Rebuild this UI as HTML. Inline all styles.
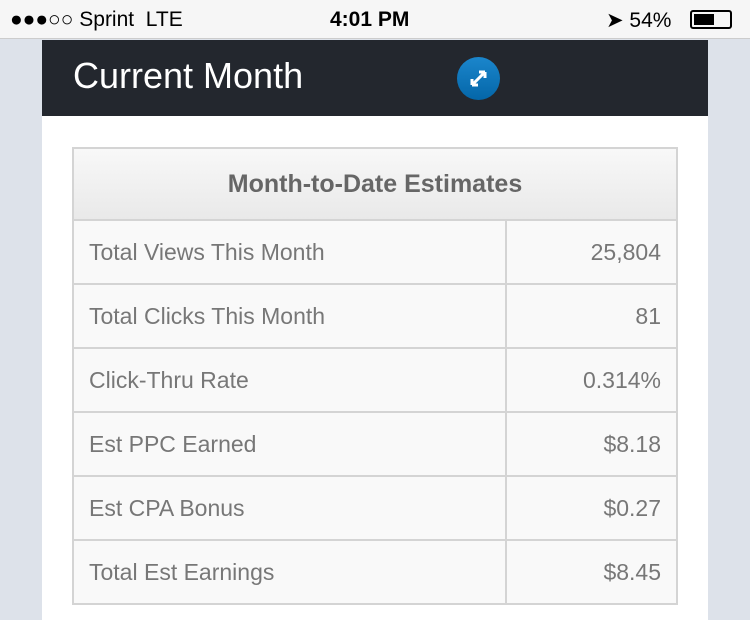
<!DOCTYPE html>
<html><head><meta charset="utf-8"><style>
*{margin:0;padding:0;box-sizing:border-box}
body{width:750px;height:613px;overflow:hidden;background:#dde2ea;font-family:"Liberation Sans",sans-serif;position:relative}
.sb{position:absolute;left:0;top:0;width:750px;height:39px;background:#f6f6f6;border-bottom:1px solid #ccc;font-size:21px;color:#000}
.sb span{position:absolute;top:8px}
.card{position:absolute;left:42px;top:40px;width:666px;height:580px;background:#fff}
.hd{height:76px;background:#23272e;position:relative}
.hd .t{position:absolute;left:31px;top:15px;color:#fff;font-size:36px}
.ic{position:absolute;left:415px;top:17px;width:43px;height:43px;border-radius:50%;background:linear-gradient(#1b86cc,#0466a8)}
table{position:absolute;left:30px;top:107px;width:606px;border-collapse:collapse;color:#777;font-size:23px}
td,th{border:2px solid #d4d4d4;height:64px;background:#f9f9f9}
th{height:72px;font-weight:bold;color:#666;font-size:25px;background:linear-gradient(#f8f8f8,#e9e9e9)}
td{padding-left:15px}
td.r{text-align:right;padding-right:15px;width:171px}
</style></head><body>
<div class="sb"><span style="left:10px">●●●○○ Sprint &nbsp;LTE</span><span style="left:330px;font-weight:bold">4:01 PM</span><span style="left:606px">➤ 54%</span>
<div style="position:absolute;left:690px;top:10px;width:42px;height:19px;border:2px solid #000;border-radius:3px"><div style="margin:2px;width:20px;height:11px;background:#000"></div></div></div>
<div class="card"><div class="hd"><div class="t">Current Month</div><div class="ic"><svg width="43" height="43"><path d="M15 28 L28 15 M28 15 l-6 0 M28 15 l0 6 M15 28 l6 0 M15 28 l0 -6" stroke="#fff" stroke-width="3" fill="none"/></svg></div></div>
<table>
<tr><th colspan="2">Month-to-Date Estimates</th></tr>
<tr><td>Total Views This Month</td><td class="r">25,804</td></tr>
<tr><td>Total Clicks This Month</td><td class="r">81</td></tr>
<tr><td>Click-Thru Rate</td><td class="r">0.314%</td></tr>
<tr><td>Est PPC Earned</td><td class="r">$8.18</td></tr>
<tr><td>Est CPA Bonus</td><td class="r">$0.27</td></tr>
<tr><td>Total Est Earnings</td><td class="r">$8.45</td></tr>
</table></div>
</body></html>
